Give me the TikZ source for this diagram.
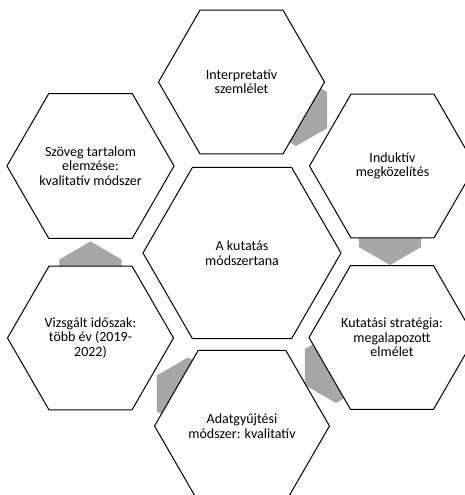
\documentclass[tikz,border=0pt]{standalone}
\usepackage{fontspec}
\setmainfont{Carlito}
\usetikzlibrary{shapes.geometric}
\definecolor{arrowgray}{RGB}{166,166,166}
\begin{document}
\begin{tikzpicture}[x=1pt,y=-1pt,
  hexbox/.style={regular polygon, regular polygon sides=6, draw=black, line width=1pt,
    fill=white, inner sep=0pt, minimum size=166pt, align=center,
    font=\fontsize{14}{14.5}\selectfont},
  bighex/.style={hexbox, minimum size=198pt},
  grayhex/.style={regular polygon, regular polygon sides=6, rotate=30, fill=arrowgray,
    draw=none, minimum size=72pt, inner sep=0pt}]
\useasboundingbox (0,0) rectangle (465,495);
\clip (0,0) rectangle (465,495);
\fill[white] (0,0) rectangle (465,495);
% gray connector hexagons (partly hidden beneath the white hexagons)
\node[grayhex] (g1) at (296,110) {};
\node[grayhex] (g2) at (390,229) {};
\node[grayhex] (g3) at (336,367) {};
\node[grayhex] (g4) at (188,393.5) {};
\node[grayhex] (g5) at (90.5,277.5) {};
% hexagons
\node[bighex] (center) at (242,253) {A kutatás\\módszertana};
\node[hexbox] (top) at (241.5,82) {Interpretatív\\szemlélet};
\node[hexbox] (ru) at (392.5,166) {Induktív\\megközelítés};
\node[hexbox] (rl) at (392,337.5) {Kutatási stratégia:\\megalapozott\\elmélet};
\node[hexbox] (bot) at (242,426) {Adatgyűjtési\\módszer: kvalitatív};
\node[hexbox] (ll) at (90.5,338) {Vizsgált időszak:\\több év (2019-\\2022)};
\node[hexbox] (lu) at (90.5,166) {Szöveg tartalom\\elemzése:\\kvalitatív módszer};
\end{tikzpicture}
\end{document}
